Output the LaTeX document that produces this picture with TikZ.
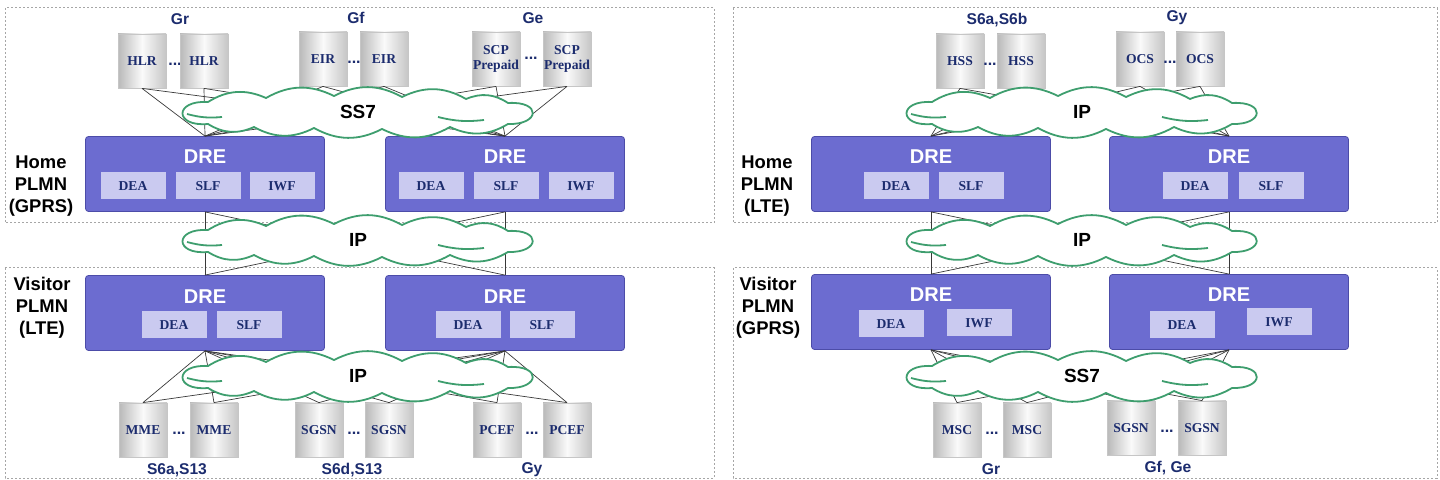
\documentclass[tikz,border=0pt]{standalone}
\usepackage{fontspec}
\setmainfont{Liberation Sans}
\newfontfamily\boxfont{Liberation Serif}
\usepackage{xcolor}
\usepackage{tikz}
\definecolor{dreblue}{HTML}{6C6CD0}
\definecolor{dreline}{HTML}{4C4CA8}
\definecolor{fnblue}{HTML}{CACAF0}
\definecolor{navy}{HTML}{1C2C6E}
\definecolor{cloudgreen}{HTML}{3E9E6E}
\tikzstyle{zone} = [draw=gray!70, line width=0.5pt, dash pattern=on 1pt off 1pt]
\tikzstyle{plmn} = [align=center, font=\fontsize{9.2}{11}\selectfont\bfseries]
\tikzstyle{dre} = [draw=dreline, fill=dreblue, rounded corners=1.5pt, minimum width=119.5pt, minimum height=37.5pt, inner sep=0pt]
\tikzstyle{dret} = [text=white, font=\fontsize{10}{12}\selectfont\bfseries]
\tikzstyle{fn} = [fill=fnblue, minimum width=32.5pt, minimum height=13.5pt, inner sep=0pt, text=navy, font=\boxfont\fontsize{6.8}{7.5}\selectfont\bfseries]
\tikzstyle{db} = [draw=gray!45, left color=gray!55, right color=gray!45, middle color=gray!4, minimum width=24pt, minimum height=27pt, inner sep=0pt, align=center, text=navy, font=\boxfont\fontsize{6.8}{7.5}\selectfont\bfseries]
\tikzstyle{dots} = [text=navy, inner sep=0pt, font=\fontsize{8}{8}\selectfont\bfseries]
\tikzstyle{ifc} = [text=navy, inner sep=0pt, font=\fontsize{7.8}{9}\selectfont\bfseries]
\tikzstyle{net} = [inner sep=0pt, font=\fontsize{9.5}{11}\selectfont\bfseries]
\tikzstyle{cloudline} = [draw=cloudgreen, line width=0.9pt, line join=round]
\tikzstyle{lnk} = [draw=gray!45!black, line width=0.35pt]

% cloud outline round a point (px units), then its named label
\newcommand{\netcloud}[3]{%
  \filldraw[cloudline, fill=white, shift={#1}]
    (-150,12) .. controls (-184,15) and (-184,-12) .. (-150,-10)
    to[bend left=28] (-92,-14) to[bend left=28] (-24,-16) to[bend left=28] (44,-15)
    to[bend left=28] (108,-13) to[bend left=28] (150,-9)
    .. controls (184,-11) and (182,13) .. (150,12)
    to[bend left=28] (92,15) to[bend left=28] (24,17) to[bend left=28] (-44,16)
    to[bend left=28] (-104,15) to[bend left=28] cycle;
  \draw[cloudline, shift={#1}] (-171,2) to[bend right=10] (-136,5);
  \draw[cloudline, shift={#1}] (126,8) to[bend left=10] (80,5);
  \node (#2) [net] at #1 {#3};}

\begin{document}
\begin{tikzpicture}[x=0.5pt, y=-0.5pt]
  \useasboundingbox (0,0) rectangle (1440,480);

  % zones
  \draw[zone] (5,8) rectangle (714,223);
  \draw[zone] (5,268) rectangle (714,478);
  \draw[zone] (733,8) rectangle (1437,223);
  \draw[zone] (733,268) rectangle (1437,478);

  \node (homeA) [plmn] at (41,186) {Home\\PLMN\\(GPRS)};
  \node (visA) [plmn] at (42,308) {Visitor\\PLMN\\(LTE)};
  \node (homeB) [plmn] at (767,186) {Home\\PLMN\\(LTE)};
  \node (visB) [plmn] at (768,308) {Visitor\\PLMN\\(GPRS)};

  % GPRS home -> LTE visitor
  \node (grA) [ifc] at (180,19) {Gr};
  \node (gfA) [ifc] at (356,18) {Gf};
  \node (geA) [ifc] at (533,18) {Ge};
  \node (hlrA) [db] at (142,61) {HLR};
  \node (hlrdots) [dots] at (175,64) {...};
  \node (hlrB) [db] at (204,61) {HLR};
  \node (eirA) [db] at (323,59) {EIR};
  \node (eirdots) [dots] at (354,62) {...};
  \node (eirB) [db] at (384,59) {EIR};
  \node (scpA) [db] at (496,59) {SCP\\Prepaid};
  \node (scpdots) [dots] at (531,58) {...};
  \node (scpB) [db] at (567,59) {SCP\\Prepaid};

  \node (dreHA) [dre] at (205,174) {};
  \node (dreHAt) [dret] at (205,157) {DRE};
  \node (deaHA) [fn] at (133,186) {DEA};
  \node (slfHA) [fn] at (208,186) {SLF};
  \node (iwfHA) [fn] at (282,186) {IWF};
  \node (dreHB) [dre] at (505,174) {};
  \node (dreHBt) [dret] at (505,157) {DRE};
  \node (deaHB) [fn] at (431,186) {DEA};
  \node (slfHB) [fn] at (506,186) {SLF};
  \node (iwfHB) [fn] at (581,186) {IWF};

  \node (dreVA) [dre] at (205,313) {};
  \node (dreVAt) [dret] at (205,297) {DRE};
  \node (deaVA) [fn] at (174,325) {DEA};
  \node (slfVA) [fn] at (249,325) {SLF};
  \node (dreVB) [dre] at (505,313) {};
  \node (dreVBt) [dret] at (505,297) {DRE};
  \node (deaVB) [fn] at (468,325) {DEA};
  \node (slfVB) [fn] at (542,325) {SLF};

  \node (mmeA) [db] at (143,430) {MME};
  \node (mmedots) [dots] at (179,433) {...};
  \node (mmeB) [db] at (214,430) {MME};
  \node (sgsnA) [db] at (319,430) {SGSN};
  \node (sgsndotsA) [dots] at (354,433) {...};
  \node (sgsnB) [db] at (389,430) {SGSN};
  \node (pcefA) [db] at (497,430) {PCEF};
  \node (pcefdots) [dots] at (532,433) {...};
  \node (pcefB) [db] at (567,430) {PCEF};
  \node (s6aA) [ifc] at (177,470) {S6a,S13};
  \node (s6dA) [ifc] at (352,470) {S6d,S13};
  \node (gyA) [ifc] at (532,470) {Gy};

  \draw[lnk] (dreHA.north) edge (hlrA.south) edge (hlrB.south) edge (eirA.south)
    edge (eirB.south) edge (scpA.south) edge (scpB.south);
  \draw[lnk] (dreHB.north) edge (hlrA.south) edge (hlrB.south) edge (eirA.south)
    edge (eirB.south) edge (scpA.south) edge (scpB.south);
  \draw[lnk] (dreHA.south) edge (dreVA.north) edge (dreVB.north);
  \draw[lnk] (dreHB.south) edge (dreVB.north) edge (dreVA.north);
  \draw[lnk] (dreVA.south) edge (mmeA.north) edge (mmeB.north) edge (sgsnA.north)
    edge (sgsnB.north) edge (pcefA.north) edge (pcefB.north);
  \draw[lnk] (dreVB.south) edge (mmeA.north) edge (mmeB.north) edge (sgsnA.north)
    edge (sgsnB.north) edge (pcefA.north) edge (pcefB.north);

  \netcloud{(358,112)}{ss7A}{SS7}
  \netcloud{(358,240)}{ipA}{IP}
  \netcloud{(358,376)}{ipB}{IP}

  % LTE home -> GPRS visitor
  \node (s6bC) [ifc] at (997,20) {S6a,S6b};
  \node (gyC) [ifc] at (1177,18) {Gy};
  \node (hssA) [db] at (960,61) {HSS};
  \node (hssdots) [dots] at (990,64) {...};
  \node (hssB) [db] at (1021,61) {HSS};
  \node (ocsA) [db] at (1140,59) {OCS};
  \node (ocsdots) [dots] at (1170,62) {...};
  \node (ocsB) [db] at (1200,59) {OCS};

  \node (dreHC) [dre] at (931,174) {};
  \node (dreHCt) [dret] at (931,157) {DRE};
  \node (deaHC) [fn] at (896,186) {DEA};
  \node (slfHC) [fn] at (971,186) {SLF};
  \node (dreHD) [dre] at (1229,174) {};
  \node (dreHDt) [dret] at (1229,157) {DRE};
  \node (deaHD) [fn] at (1195,186) {DEA};
  \node (slfHD) [fn] at (1271,186) {SLF};

  \node (dreVC) [dre] at (931,312) {};
  \node (dreVCt) [dret] at (931,295) {DRE};
  \node (deaVC) [fn] at (891,324) {DEA};
  \node (iwfVC) [fn] at (979,323) {IWF};
  \node (dreVD) [dre] at (1229,312) {};
  \node (dreVDt) [dret] at (1229,295) {DRE};
  \node (deaVD) [fn] at (1182,325) {DEA};
  \node (iwfVD) [fn] at (1279,322) {IWF};

  \node (mscA) [db] at (957,430) {MSC};
  \node (mscdots) [dots] at (992,433) {...};
  \node (mscB) [db] at (1027,430) {MSC};
  \node (sgsnC) [db] at (1131,428) {SGSN};
  \node (sgsndotsC) [dots] at (1167,431) {...};
  \node (sgsnD) [db] at (1202,428) {SGSN};
  \node (grC) [ifc] at (991,469) {Gr};
  \node (gfC) [ifc] at (1168,468) {Gf, Ge};

  \draw[lnk] (dreHC.north) edge (hssA.south) edge (hssB.south) edge (ocsA.south) edge (ocsB.south);
  \draw[lnk] (dreHD.north) edge (hssA.south) edge (hssB.south) edge (ocsA.south) edge (ocsB.south);
  \draw[lnk] (dreHC.south) edge (dreVC.north) edge (dreVD.north);
  \draw[lnk] (dreHD.south) edge (dreVD.north) edge (dreVC.north);
  \draw[lnk] (dreVC.south) edge (mscA.north) edge (mscB.north) edge (sgsnC.north) edge (sgsnD.north);
  \draw[lnk] (dreVD.south) edge (mscA.north) edge (mscB.north) edge (sgsnC.north) edge (sgsnD.north);

  \netcloud{(1082,112)}{ipC}{IP}
  \netcloud{(1082,240)}{ipD}{IP}
  \netcloud{(1082,376)}{ss7B}{SS7}
\end{tikzpicture}
\end{document}
